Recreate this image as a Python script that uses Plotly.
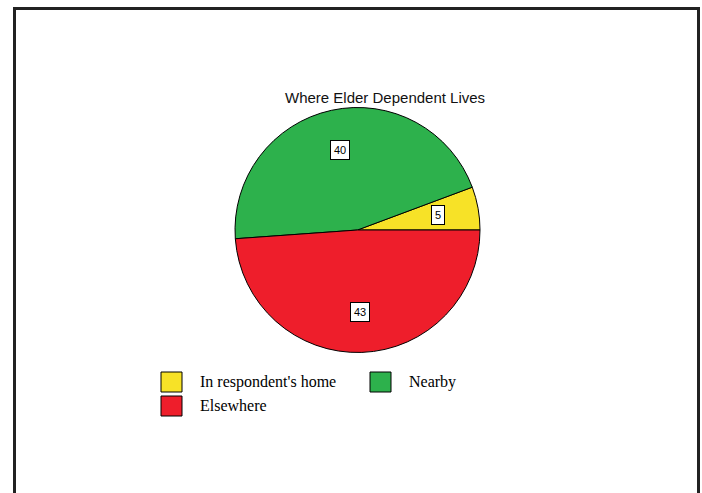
import math
import plotly.graph_objects as go

# Where the elder dependent lives: counts per category
categories = ["In respondent's home", "Nearby", "Elsewhere"]
counts = [5, 40, 43]
colors = ["#F7E227", "#2DB14C", "#EE1E2B"]

W, H = 702, 493

# Pie placement in pixels (centre and radius)
cx_px, cy_px, r_px = 357.5, 230.0, 122.5
dom_x = [(cx_px - r_px) / W, (cx_px + r_px) / W]
dom_y = [1 - (cy_px + r_px) / H, 1 - (cy_px - r_px) / H]

total = sum(counts)
# First slice begins at 3 o'clock and the slices run counterclockwise;
# plotly anchors the end of the first slice at `rotation`, so offset by its span.
first_span = 360.0 * counts[0] / total
rotation = 90 - first_span

fig = go.Figure(
    go.Pie(
        labels=categories,
        values=counts,
        marker=dict(colors=colors, line=dict(color="black", width=1)),
        sort=False,
        direction="counterclockwise",
        rotation=rotation,
        textinfo="none",
        hoverinfo="label+value",
        showlegend=False,
        domain=dict(x=dom_x, y=dom_y),
    )
)

annotations = []

# Value boxes placed at two-thirds of the radius along each slice's mid-angle
start = 0.0
for v in counts:
    span = 360.0 * v / total
    mid = math.radians(start + span / 2)
    start += span
    lx = cx_px + 0.67 * r_px * math.cos(mid)
    ly = cy_px - 0.67 * r_px * math.sin(mid)
    annotations.append(dict(
        x=lx / W, y=1 - ly / H, xref="paper", yref="paper",
        text=str(v), showarrow=False,
        font=dict(family="Liberation Sans, Arial", size=11, color="black"),
        bgcolor="white", bordercolor="black", borderwidth=1, borderpad=3,
        xanchor="center", yanchor="middle",
    ))

# Title
annotations.append(dict(
    x=385 / W, y=1 - 97 / H, xref="paper", yref="paper",
    text="Where Elder Dependent Lives", showarrow=False,
    font=dict(family="Liberation Sans, Arial", size=15, color="#111"),
    xanchor="center", yanchor="middle",
))

shapes = []

# Outer frame
shapes.append(dict(
    type="rect", xref="paper", yref="paper",
    x0=14.5 / W, x1=698.5 / W, y0=1 - 520 / H, y1=1 - 8.5 / H,
    line=dict(color="#222", width=3), fillcolor="rgba(0,0,0,0)",
))

# Legend: swatch top-left corners and text start in pixels
legend_pos = [(161, 372, 198), (370, 372, 407), (161, 396, 198)]
for (sx, sy, tx), name, col in zip(legend_pos, categories, colors):
    shapes.append(dict(
        type="rect", xref="paper", yref="paper",
        x0=sx / W, x1=(sx + 21) / W, y0=1 - (sy + 20) / H, y1=1 - sy / H,
        line=dict(color="black", width=1), fillcolor=col,
    ))
    annotations.append(dict(
        x=tx / W, y=1 - (sy + 9.5) / H, xref="paper", yref="paper",
        text=name, showarrow=False,
        font=dict(family="Liberation Serif, Times New Roman", size=16, color="black"),
        xanchor="left", yanchor="middle",
    ))

fig.update_layout(
    width=W, height=H,
    margin=dict(l=0, r=0, t=0, b=0),
    paper_bgcolor="white", plot_bgcolor="white",
    annotations=annotations, shapes=shapes,
)

fig.write_html("out.html")
